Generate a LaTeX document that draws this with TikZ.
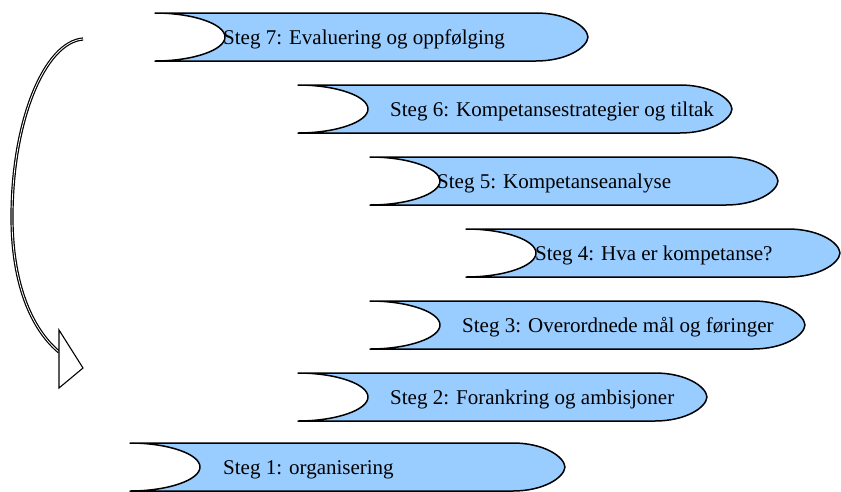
\documentclass[tikz,border=0pt]{standalone}
\usepackage{fontspec}
\setmainfont{Liberation Serif}
\definecolor{bandblue}{HTML}{99CCFF}
\tikzset{
  band/.style={fill=bandblue, draw=black, line width=1.5pt, line join=round},
  steplabel/.style={anchor=base west, inner sep=0pt, font=\fontsize{21}{25}\selectfont},
  cycleshaft/.style={draw=black, line width=1.2pt, double=white, double distance=0.8pt},
  cyclehead/.style={draw=black, fill=white, line width=1.1pt, line join=miter}
}
% #1 name, #2 left x, #3 right tip x, #4 centre y, #5 text x, #6 text
\newcommand\stepband[6]{%
  \path[band] ({#2},{#4-24}) -- ({#3-52},{#4-24})
    .. controls ({#3-22},{#4-24}) and ({#3-1},{#4-11}) .. ({#3},{#4})
    .. controls ({#3-1},{#4+11}) and ({#3-22},{#4+24}) .. ({#3-52},{#4+24})
    -- ({#2},{#4+24})
    .. controls ({#2+38},{#4+24}) and ({#2+70},{#4+13}) .. ({#2+70},{#4})
    .. controls ({#2+70},{#4-13}) and ({#2+38},{#4-24}) .. cycle;
  \node[steplabel] (#1) at ({#5},{#4+7}) {#6};
}
\begin{document}
\begin{tikzpicture}[x=1pt,y=-1pt]
\useasboundingbox (0,0) rectangle (841,491);
\stepband{s7}{155}{588}{37}{223}{Steg 7: Evaluering og oppfølging}
\stepband{s6}{298}{732}{109}{390}{Steg 6: Kompetansestrategier og tiltak}
\stepband{s5}{370}{778}{181}{437}{Steg 5: Kompetanseanalyse}
\stepband{s4}{466}{840}{253}{535}{Steg 4: Hva er kompetanse?}
\stepband{s3}{370}{805}{325}{462}{Steg 3: Overordnede mål og føringer}
\stepband{s2}{298}{707}{397}{390}{Steg 2: Forankring og ambisjoner}
\stepband{s1}{130}{565}{467}{223}{Steg 1: organisering}
% cycle arrow
\coordinate (arrowstart) at (83,39);
\coordinate (arrowmid) at (12,217);
\coordinate (arrowend) at (59,352);
\draw[cycleshaft] (arrowstart) .. controls (45,42) and (12,120) .. (arrowmid)
  .. controls (12,290) and (35,332) .. (arrowend);
\coordinate (headtop) at (59,330);
\coordinate (headtip) at (83,368);
\coordinate (headbottom) at (59,388);
\draw[cyclehead] (headtop) -- (headtip) -- (headbottom) -- cycle;
\end{tikzpicture}
\end{document}
